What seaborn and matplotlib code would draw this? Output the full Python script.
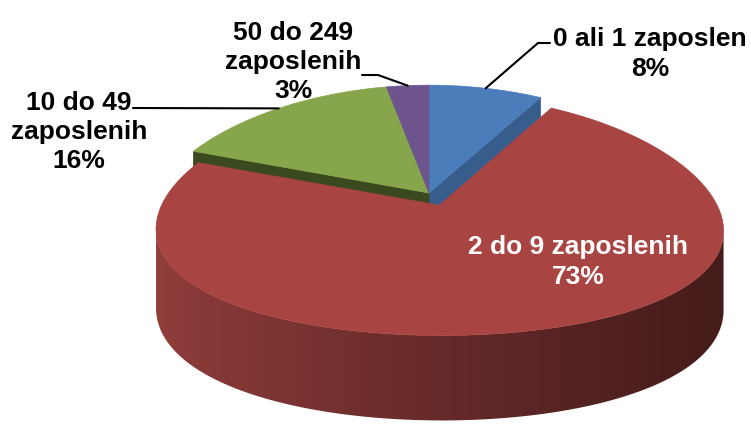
import numpy as np
import matplotlib
matplotlib.use("Agg")
import matplotlib.pyplot as plt
import seaborn as sns
from matplotlib.patches import Polygon
from matplotlib.colors import LinearSegmentedColormap

# data
labels = ['0 ali 1 zaposlen', '2 do 9 zaposlenih', '10 do 49\nzaposlenih', '50 do 249\nzaposlenih']
shares = [8, 73, 16, 3]
explode = [0, 0.11, 0, 0]

top_colors = ['#4A7DBA', '#A84442', '#87A54A', '#6E548D']
side_colors = ['#375D8C', '#6A2A29', '#3B4A1E', '#4E3A66']
wall_left, wall_right = '#923E3C', '#451C1B'

# 3D pie geometry in pixel coords (perspective-ish projection)
CX, CY = 429, 193
A, B = 272, 117
KX, KY = 0.2, 0.085
H = 77


def proj(u, v, h=0.0):
    u = np.asarray(u, dtype=float)
    v = np.asarray(v, dtype=float)
    x = CX + A * u / (1 - KX * v)
    y = CY + (B * v + h) / (1 - KY * v)
    return x, y


def rim(phi, du, dv, h=0.0):
    r = np.radians(phi)
    return proj(np.cos(r) + du, -np.sin(r) + dv, h)


sns.set_theme(style="white")
plt.rcParams['font.family'] = ['Liberation Sans', 'DejaVu Sans']

fig = plt.figure(figsize=(7.51, 4.24), dpi=100)
ax = fig.add_axes([0, 0, 1, 1])
ax.set_xlim(0, 751)
ax.set_ylim(424, 0)
ax.axis('off')

fracs = np.array(shares) / sum(shares)
ends = 90 - 360 * np.cumsum(fracs)
starts = np.r_[90, ends[:-1]]
mids = (starts + ends) / 2
offs = [(e * np.cos(np.radians(m)), -e * np.sin(np.radians(m))) for e, m in zip(explode, mids)]
n = len(shares)


def radial_wall(i, phi):
    du, dv = offs[i]
    x0, y0 = proj(du, dv)
    x1, y1 = rim(phi, du, dv)
    x2, y2 = rim(phi, du, dv, H)
    x3, y3 = proj(du, dv, H)
    ax.fill([x0, x1, x2, x3], [y0, y1, y2, y3], color=side_colors[i], lw=0.5, zorder=1)


def top_face(i, z):
    du, dv = offs[i]
    phi = np.linspace(starts[i], ends[i], 300)
    xs, ys = rim(phi, du, dv)
    x0, y0 = proj(du, dv)
    ax.fill(np.r_[x0, xs], np.r_[y0, ys], color=top_colors[i], lw=0.5,
            ec=top_colors[i], zorder=z)


def outer_wall(i, z):
    du, dv = offs[i]
    phi = np.linspace(max(ends[i], -200), min(starts[i], 20), 800)
    xt, _ = rim(phi, du, dv)
    # visible front band between the left and right silhouettes
    phi = np.linspace(phi[np.argmin(xt)], phi[np.argmax(xt)], 400)
    xt, yt = rim(phi, du, dv)
    xb, yb = rim(phi, du, dv, H)
    pts = np.c_[np.r_[xt, xb[::-1]], np.r_[yt, yb[::-1]]]
    clip = Polygon(pts, closed=True, fc='none', ec='none', transform=ax.transData)
    ax.add_patch(clip)
    x0, x1 = xt.min(), xt.max()
    grad = np.linspace(0, 1, 256)[None, :] ** 0.8
    cmap = LinearSegmentedColormap.from_list('wall', [wall_left, wall_right])
    im = ax.imshow(grad, cmap=cmap, aspect='auto', interpolation='bilinear',
                   extent=[x0, x1, yb.max() + 2, yt.min() - 2], zorder=z)
    im.set_clip_path(clip)
    ax.set_xlim(0, 751)
    ax.set_ylim(424, 0)


# walls of fixed slices that face the pulled-out slice
for i in range(n):
    if explode[i]:
        continue
    if explode[(i + 1) % n]:
        radial_wall(i, ends[i])
    if explode[(i - 1) % n]:
        radial_wall(i, starts[i])

for i in range(n):
    if not explode[i]:
        top_face(i, 2)

for i in range(n):
    if explode[i]:
        outer_wall(i, 3)
        top_face(i, 4)

# labels
font = dict(fontsize=19, fontweight='bold', ha='center', va='center', zorder=6)
text_pos = [(650, 54), (578, 262), (79, 132), (293, 62)]
elbows = [[(538, 43), (550, 43)], None, [(133, 108)], [(378, 75), (362, 75)]]

for i in range(n):
    txt = f"{labels[i]}\n{shares[i]}%"
    color = 'white' if explode[i] else 'black'
    ax.text(*text_pos[i], txt, color=color, linespacing=1.27, **font)
    if elbows[i]:
        ax_, ay_ = rim(mids[i], *offs[i])
        xs = [float(ax_)] + [p[0] for p in elbows[i]]
        ys = [float(ay_)] + [p[1] for p in elbows[i]]
        ax.plot(xs, ys, color='black', lw=1.5, zorder=5)

fig.savefig('out.png', dpi=100)
